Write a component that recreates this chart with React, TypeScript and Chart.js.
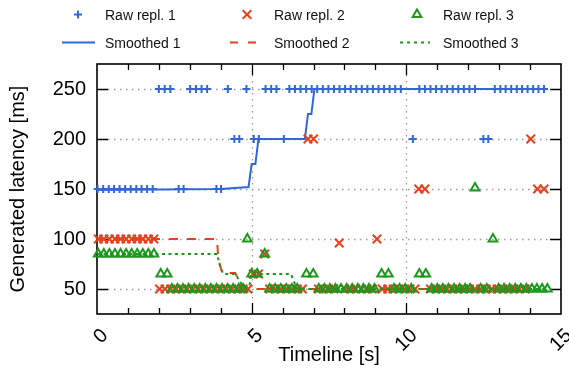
import React, { useEffect, useRef } from 'react';
import { Chart, registerables } from 'chart.js';

Chart.register(...registerables);

// ---------- data ----------
const seriesNames = ['Raw repl. 1', 'Raw repl. 2', 'Raw repl. 3', 'Smoothed 1', 'Smoothed 2', 'Smoothed 3'];

const rep1Time = [
  0.02, 0.20, 0.38, 0.55, 0.73, 0.91, 1.09, 1.27, 1.44, 1.62, 1.80,
  2.00, 2.19, 2.37,
  2.64, 2.80,
  3.01, 3.20, 3.38, 3.56,
  3.86, 4.01,
  4.23,
  4.44, 4.60,
  4.83,
  5.07, 5.23,
  5.45, 5.63, 5.80,
  6.04,
  6.22, 6.40, 6.58, 6.76, 6.94, 7.12, 7.30, 7.48, 7.66, 7.84, 8.02, 8.20, 8.38, 8.56, 8.74, 8.92, 9.10, 9.28, 9.46, 9.64, 9.82,
  10.21,
  10.42, 10.60, 10.78, 10.96, 11.14, 11.32, 11.50, 11.68, 11.86, 12.04, 12.22,
  12.49, 12.65,
  12.86, 13.04, 13.21, 13.39, 13.57, 13.74, 13.92, 14.10, 14.27, 14.45,
];
const rep1Val = [
  150, 150, 150, 150, 150, 150, 150, 150, 150, 150, 150,
  250, 250, 250,
  150, 150,
  250, 250, 250, 250,
  150, 150,
  250,
  200, 200,
  250,
  200, 200,
  250, 250, 250,
  200,
  250, 250, 250, 250, 250, 250, 250, 250, 250, 250, 250, 250, 250, 250, 250, 250, 250, 250, 250, 250, 250,
  200,
  250, 250, 250, 250, 250, 250, 250, 250, 250, 250, 250,
  200, 200,
  250, 250, 250, 250, 250, 250, 250, 250, 250, 250,
];

const rep2Time = [
  0.04, 0.22, 0.40, 0.58, 0.76, 0.94, 1.12, 1.30, 1.48, 1.66, 1.84,
  2.02, 2.20, 2.38, 2.56, 2.74, 2.92, 3.10, 3.28, 3.46, 3.64, 3.82, 4.00, 4.18, 4.36, 4.54, 4.72, 4.88,
  5.05, 5.22,
  5.42,
  5.58, 5.76, 5.94, 6.12, 6.30, 6.48, 6.64,
  6.82, 7.00,
  7.16, 7.32, 7.49, 7.66,
  7.83,
  8.01, 8.19, 8.37, 8.55, 8.73, 8.90,
  9.05,
  9.22, 9.40, 9.58, 9.76, 9.94, 10.12, 10.28,
  10.40, 10.60,
  10.78, 10.96, 11.14, 11.32, 11.50, 11.68, 11.86, 12.04, 12.22, 12.40, 12.58, 12.76, 12.94, 13.12, 13.30, 13.48, 13.66, 13.84,
  14.02,
  14.24, 14.45,
];
const rep2Val = [
  100, 100, 100, 100, 100, 100, 100, 100, 100, 100, 100,
  50, 50, 50, 50, 50, 50, 50, 50, 50, 50, 50, 50, 50, 50, 50, 50, 50,
  65, 65,
  85,
  50, 50, 50, 50, 50, 50, 50,
  200, 200,
  50, 50, 50, 50,
  96,
  50, 50, 50, 50, 50, 50,
  100,
  50, 50, 50, 50, 50, 50, 50,
  150, 150,
  50, 50, 50, 50, 50, 50, 50, 50, 50, 50, 50, 50, 50, 50, 50, 50, 50, 50,
  200,
  150, 150,
];

const rep3Time = [
  0.04, 0.22, 0.40, 0.58, 0.76, 0.94, 1.12, 1.30, 1.48, 1.66, 1.84,
  2.06, 2.27,
  2.42, 2.60, 2.78, 2.96, 3.14, 3.32, 3.50, 3.68, 3.86, 4.04, 4.22, 4.40, 4.58, 4.72,
  4.86,
  5.00, 5.18,
  5.42,
  5.58, 5.76, 5.94, 6.12, 6.30, 6.47,
  6.77, 6.99,
  7.17, 7.35, 7.53, 7.71, 7.89, 8.07, 8.25, 8.43, 8.61, 8.79, 8.97,
  9.20, 9.42,
  9.60, 9.78, 9.96, 10.16,
  10.42, 10.63,
  10.82, 11.00, 11.18, 11.36, 11.54, 11.72, 11.90, 12.06,
  12.22,
  12.40, 12.60,
  12.80,
  12.98, 13.16, 13.34, 13.52, 13.70, 13.88, 14.06, 14.22, 14.39, 14.56,
];
const rep3Val = [
  85, 85, 85, 85, 85, 85, 85, 85, 85, 85, 85,
  65, 65,
  50, 50, 50, 50, 50, 50, 50, 50, 50, 50, 50, 50, 50, 50,
  100,
  65, 65,
  85,
  50, 50, 50, 50, 50, 50,
  65, 65,
  50, 50, 50, 50, 50, 50, 50, 50, 50, 50, 50,
  65, 65,
  50, 50, 50, 50,
  65, 65,
  50, 50, 50, 50, 50, 50, 50, 50,
  151,
  50, 50,
  100,
  50, 50, 50, 50, 50, 50, 50, 50, 50, 50,
];

const sm1Time = [0, 4.0, 4.9, 5.0, 5.12, 5.22, 6.72, 6.82, 6.93, 7.03, 14.45];
const sm1Val = [149, 150, 152, 175, 175, 200, 200, 225, 225, 250, 250];
const sm2Time = [0, 3.88, 3.92, 4.05, 4.47, 4.62, 4.78, 14.02];
const sm2Val = [100, 100, 80, 66, 66, 56, 50, 50];
const sm3Time = [0, 3.88, 3.96, 4.08, 4.48, 4.62, 4.8, 4.92, 5.0, 6.27, 6.36, 6.47, 14.56];
const sm3Val = [85, 85, 75, 65, 65, 57, 52, 52, 65, 65, 58, 50, 50];

const xTicks = [0, 5, 10, 15];
const yTicks = [50, 100, 150, 200, 250];
const xMinorStep = 1;
const xRange = [0, 15];
const yRange = [25, 275];

// ---------- style ----------
const BLUE = '#3366d8';
const RED = '#e4411c';
const GREEN = '#1d981d';
const FONT = "'Liberation Sans', Arial, Helvetica, sans-serif";

type Kind = 'cross' | 'crossRot' | 'triangle';
const legendStyles: { color: string; point?: Kind; dash?: number[] }[] = [
  { color: BLUE, point: 'cross' },
  { color: RED, point: 'crossRot' },
  { color: GREEN, point: 'triangle' },
  { color: BLUE, dash: [] },
  { color: RED, dash: [8, 10] },
  { color: GREEN, dash: [3, 4] },
];

function strokeMarker(ctx: CanvasRenderingContext2D, kind: Kind, x: number, y: number, color: string) {
  ctx.save();
  ctx.strokeStyle = color;
  ctx.lineWidth = 2;
  ctx.setLineDash([]);
  ctx.beginPath();
  if (kind === 'cross') {
    const r = 4;
    ctx.moveTo(x - r, y); ctx.lineTo(x + r, y);
    ctx.moveTo(x, y - r); ctx.lineTo(x, y + r);
  } else if (kind === 'crossRot') {
    const d = 4.3;
    ctx.moveTo(x - d, y - d); ctx.lineTo(x + d, y + d);
    ctx.moveTo(x - d, y + d); ctx.lineTo(x + d, y - d);
  } else {
    const r = 5;
    let rad = 0;
    ctx.moveTo(x + Math.sin(rad) * r, y - Math.cos(rad) * r);
    rad += (2 * Math.PI) / 3;
    ctx.lineTo(x + Math.sin(rad) * r, y - Math.cos(rad) * r);
    rad += (2 * Math.PI) / 3;
    ctx.lineTo(x + Math.sin(rad) * r, y - Math.cos(rad) * r);
    ctx.closePath();
  }
  ctx.stroke();
  ctx.restore();
}

const legendPlugin = {
  id: 'gridLegend',
  afterDraw(chart: any) {
    const ctx: CanvasRenderingContext2D = chart.ctx;
    const markX = [78, 247, 417];
    const lineX = [78.5, 244, 415];
    const textX = [105, 274, 443];
    const markY = [14.5, 42.5];
    const textY = [16, 44];
    ctx.save();
    ctx.font = `14px ${FONT}`;
    ctx.fillStyle = '#111';
    ctx.textBaseline = 'middle';
    ctx.textAlign = 'left';
    seriesNames.forEach((name, i) => {
      const c = i % 3;
      const r = Math.floor(i / 3);
      const st = legendStyles[i];
      if (st.point) {
        strokeMarker(ctx, st.point, markX[c], markY[r], st.color);
      } else {
        ctx.save();
        ctx.strokeStyle = st.color;
        ctx.lineWidth = 2;
        ctx.setLineDash(st.dash || []);
        ctx.beginPath();
        const half = c === 0 ? 16.5 : c === 1 ? 14 : 15;
        ctx.moveTo(lineX[c] - half, markY[r]);
        ctx.lineTo(lineX[c] + half, markY[r]);
        ctx.stroke();
        ctx.restore();
      }
      ctx.fillText(name, textX[c], textY[r]);
    });
    ctx.restore();
  },
};

const framePlugin = {
  id: 'frame',
  beforeDatasetsDraw(chart: any) {
    const ctx: CanvasRenderingContext2D = chart.ctx;
    const a = chart.chartArea;
    const xs = chart.scales.x;
    const ys = chart.scales.y;
    const major = 11;
    const minor = 6;
    ctx.save();
    // dotted grid
    ctx.strokeStyle = '#9a9a9a';
    ctx.lineWidth = 1.3;
    ctx.setLineDash([1.5, 4.5]);
    ctx.beginPath();
    for (const v of yTicks) {
      const p = Math.round(ys.getPixelForValue(v)) + 0.5;
      ctx.moveTo(a.left + major, p);
      ctx.lineTo(a.right - major, p);
    }
    for (const v of xTicks) {
      if (v <= xRange[0] || v >= xRange[1]) continue;
      const p = Math.round(xs.getPixelForValue(v)) + 0.5;
      ctx.moveTo(p, a.top + major);
      ctx.lineTo(p, a.bottom - major);
    }
    ctx.stroke();
    // tick marks (inside, mirrored)
    ctx.setLineDash([]);
    ctx.strokeStyle = '#000';
    ctx.lineWidth = 1.3;
    ctx.beginPath();
    for (let v = xRange[0] + xMinorStep; v < xRange[1]; v += xMinorStep) {
      const p = Math.round(xs.getPixelForValue(v)) + 0.5;
      const len = xTicks.includes(v) ? major : minor;
      ctx.moveTo(p, a.bottom); ctx.lineTo(p, a.bottom - len);
      ctx.moveTo(p, a.top); ctx.lineTo(p, a.top + len);
    }
    for (const v of yTicks) {
      const p = Math.round(ys.getPixelForValue(v)) + 0.5;
      ctx.moveTo(a.left, p); ctx.lineTo(a.left + major, p);
      ctx.moveTo(a.right, p); ctx.lineTo(a.right - major, p);
    }
    ctx.stroke();
    // border
    ctx.lineWidth = 1.6;
    ctx.strokeRect(a.left, a.top, a.right - a.left, a.bottom - a.top);
    ctx.restore();
  },
};

const pts = (t: number[], v: number[]) => t.map((x, i) => ({ x, y: v[i] }));

export default function App() {
  const ref = useRef<HTMLCanvasElement | null>(null);

  useEffect(() => {
    document.body.style.margin = '0';
    const canvas = ref.current;
    if (!canvas) return;
    const rawCommon = { showLine: false, clip: false as any, pointBackgroundColor: 'rgba(0,0,0,0)', pointHoverRadius: 0 };
    const lineCommon = { showLine: true, pointRadius: 0, borderWidth: 2, clip: false as any, fill: false, tension: 0 };
    const chart = new Chart(canvas, {
      type: 'scatter',
      data: {
        datasets: [
          { ...rawCommon, label: seriesNames[0], data: pts(rep1Time, rep1Val), pointStyle: 'cross', pointRadius: 4, pointBorderWidth: 2, borderColor: BLUE, pointBorderColor: BLUE, order: 6 },
          { ...lineCommon, label: seriesNames[3], data: pts(sm1Time, sm1Val), borderColor: BLUE, order: 5 },
          { ...rawCommon, label: seriesNames[1], data: pts(rep2Time, rep2Val), pointStyle: 'crossRot', pointRadius: 6, pointBorderWidth: 2, borderColor: RED, pointBorderColor: RED, order: 4 },
          { ...lineCommon, label: seriesNames[4], data: pts(sm2Time, sm2Val), borderColor: RED, borderDash: [9, 9], order: 3 },
          { ...rawCommon, label: seriesNames[2], data: pts(rep3Time, rep3Val), pointStyle: 'triangle', pointRadius: 5, pointBorderWidth: 2, borderColor: GREEN, pointBorderColor: GREEN, order: 2 },
          { ...lineCommon, label: seriesNames[5], data: pts(sm3Time, sm3Val), borderColor: GREEN, borderDash: [3, 3.5], order: 1 },
        ] as any,
      },
      options: {
        animation: false,
        responsive: false,
        events: [],
        layout: { padding: { top: 64, right: 2, left: 0, bottom: 0 } },
        plugins: { legend: { display: false }, tooltip: { enabled: false } },
        scales: {
          x: {
            type: 'linear',
            min: xRange[0],
            max: xRange[1],
            afterBuildTicks: (s: any) => { s.ticks = xTicks.map((v) => ({ value: v })); },
            afterFit: (s: any) => { s.height = 58; s.paddingLeft = 0; s.paddingRight = 0; },
            grid: { display: false, drawTicks: false },
            border: { display: false },
            ticks: {
              minRotation: 45,
              maxRotation: 45,
              autoSkip: false,
              padding: 10,
              labelOffset: 8,
              color: '#000',
              font: { family: FONT, size: 20 },
            },
            title: { display: true, text: 'Timeline [s]', color: '#000', font: { family: FONT, size: 20 }, padding: { top: 0, bottom: 5 } },
          },
          y: {
            type: 'linear',
            min: yRange[0],
            max: yRange[1],
            afterBuildTicks: (s: any) => { s.ticks = yTicks.map((v) => ({ value: v })); },
            afterFit: (s: any) => { s.width = 97; s.paddingTop = 0; s.paddingBottom = 0; },
            grid: { display: false, drawTicks: false },
            border: { display: false },
            ticks: { padding: 11, color: '#000', font: { family: FONT, size: 20 } },
            title: { display: true, text: 'Generated latency [ms]', color: '#000', font: { family: FONT, size: 20 }, padding: { top: 6, bottom: 0 } },
          },
        },
      } as any,
      plugins: [framePlugin, legendPlugin],
    });
    return () => chart.destroy();
  }, []);

  return (
    <div style={{ width: 569, height: 372, position: 'relative' }}>
      <canvas ref={ref} width={569} height={372} style={{ display: 'block', width: 569, height: 372 }} />
    </div>
  );
}
